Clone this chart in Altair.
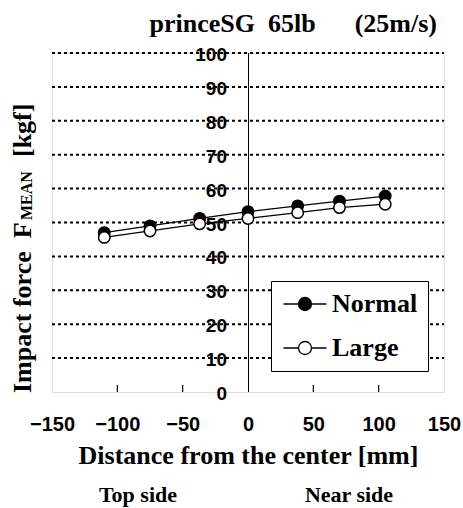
import altair as alt
import pandas as pd

# ---- data ----
distance_mm = [-110, -75, -37, 0, 38, 70, 105]
normal_kgf = [47.0, 49.0, 51.2, 53.2, 54.9, 56.3, 57.8]
large_kgf = [45.6, 47.5, 49.6, 51.2, 52.9, 54.4, 55.4]
series_names = ["Normal", "Large"]
series_fill = ["black", "white"]
y_tick_values = [0, 10, 20, 30, 40, 50, 60, 70, 80, 90, 100]
grid_values = [10, 20, 30, 40, 50, 60, 70, 80, 90, 100]
x_tick_values = [-150, -100, -50, 0, 50, 100, 150]
inner_tick_values = [-100, -50, 50, 100]
title_text = "princeSG\u00a0\u00a065lb\u00a0\u00a0\u00a0\u00a0\u00a0\u00a0(25m/s)"
x_title = "Distance from the center [mm]"
y_title_main = "Impact force\u00a0\u00a0F"
y_title_sub = "MEAN"
y_title_unit = "[kgf]"
side_top = "Top side"
side_near = "Near side"

W, H = 392, 339
SERIF = "Liberation Serif"
SANS = "Liberation Sans"

df = pd.DataFrame({
    "x": distance_mm + distance_mm,
    "y": normal_kgf + large_kgf,
    "series": [series_names[0]] * len(distance_mm) + [series_names[1]] * len(distance_mm),
})

xs = alt.Scale(domain=[-150, 150], nice=False, zero=False)
ys = alt.Scale(domain=[0, 100], nice=False)

x_axis = alt.Axis(
    values=x_tick_values, format="d", labelFont=SANS, labelFontWeight="bold",
    labelFontSize=20, labelColor="black", labelFlush=False, domain=False,
    ticks=False, tickSize=0, grid=False, labelPadding=22,
    title=x_title, titleFont=SERIF, titleFontWeight="bold", titleFontSize=26,
    titleColor="black", titlePadding=8,
)

grid = alt.Chart(pd.DataFrame({"v": grid_values})).mark_rule(
    color="black", strokeWidth=2, strokeDash=[3, 3]
).encode(
    y=alt.Y("v:Q", scale=ys, axis=None), x=alt.value(0), x2=alt.value(W)
)

center_line = alt.Chart(pd.DataFrame({"v": [0]})).mark_rule(
    color="black", strokeWidth=1, xOffset=0.5
).encode(
    x=alt.X("v:Q", scale=xs, axis=x_axis), y=alt.value(0), y2=alt.value(H)
)

inner_ticks = alt.Chart(pd.DataFrame({"v": inner_tick_values})).mark_rule(
    color="black", strokeWidth=1.2
).encode(
    x=alt.X("v:Q", scale=xs), y=alt.value(H), y2=alt.value(H - 7)
)

y_labels = alt.Chart(pd.DataFrame({"v": y_tick_values})).mark_text(
    align="right", baseline="middle", dx=-21, dy=2, font=SANS,
    fontWeight="bold", fontSize=19, color="black"
).encode(
    x=alt.datum(0), y=alt.Y("v:Q", scale=ys), text=alt.Text("v:Q", format="d")
)

lines = alt.Chart(df).mark_line(color="black", strokeWidth=1.3).encode(
    x=alt.X("x:Q", scale=xs), y=alt.Y("y:Q", scale=ys),
    detail="series:N",
)

symbol_path = (
    "M-2.15,0L-0.65,0M0.65,0L2.15,0"
    "M-0.65,0A0.65,0.65,0,1,1,0.65,0A0.65,0.65,0,1,1,-0.65,0Z"
)

points = alt.Chart(df).mark_point(
    filled=True, shape="circle", size=130, stroke="black", strokeWidth=1.5, opacity=1
).encode(
    x=alt.X("x:Q", scale=xs), y=alt.Y("y:Q", scale=ys),
    fill=alt.Fill(
        "series:N",
        scale=alt.Scale(domain=series_names, range=series_fill),
        legend=alt.Legend(
            title=None, orient="none", legendX=219, legendY=228,
            direction="vertical", symbolType=symbol_path, symbolSize=400,
            symbolStrokeColor="black", symbolStrokeWidth=1.3, symbolOpacity=1,
            symbolOffset=11, labelOffset=14, padding=10, rowPadding=18,
            labelFont=SERIF, labelFontWeight="bold", labelFontSize=26,
            labelColor="black", strokeColor="black", fillColor="white",
            labelLimit=300,
        ),
    ),
)

def txt(text, x, y, size, font=SERIF, align="center", angle=0, baseline="alphabetic"):
    return alt.Chart(pd.DataFrame({"t": [text]})).mark_text(
        font=font, fontSize=size, fontWeight="bold", color="black",
        align=align, baseline=baseline, angle=angle,
    ).encode(x=alt.value(x), y=alt.value(y), text="t:N")

texts = [
    txt(title_text, 385, -21, 26, align="right"),
    txt(side_top, 86, 449, 22),
    txt(side_near, 297, 449, 22),
    txt(y_title_main, -29, 340, 26, align="left", angle=270, baseline="middle"),
    txt(y_title_sub, -25, 167, 16, align="left", angle=270, baseline="middle"),
    txt(y_title_unit, -29, 104, 26, align="left", angle=270, baseline="middle"),
]

chart = alt.layer(
    grid, center_line, inner_ticks, lines, points, y_labels, *texts
).properties(
    width=W, height=H,
    padding={"left": 52, "top": 53, "right": 19, "bottom": 116},
    autosize=alt.AutoSizeParams(type="none"),
).configure_view(
    stroke="black", strokeWidth=1.5
).configure(background="white")

chart.save("out.html", embed_options={"renderer": "svg", "actions": False})
